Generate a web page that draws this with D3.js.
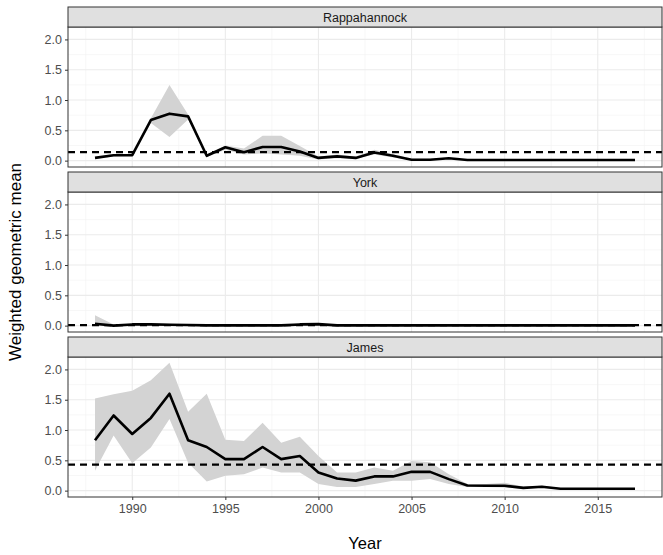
<!DOCTYPE html>
<html>
<head>
<meta charset="utf-8">
<script src="https://cdn.jsdelivr.net/npm/d3@7"></script>
<style>
  body { margin: 0; background: #fff; }
  svg { display: block; font-family: "Liberation Sans", Arial, sans-serif; }
</style>
</head>
<body>
<svg id="chart" width="663" height="555"></svg>
<script>
// ---- data ----
const years = d3.range(1988, 2018);
const rivers = ["Rappahannock", "York", "James"];

const rappMean = [0.045,0.09,0.09,0.67,0.775,0.73,0.08,0.22,0.14,0.225,0.225,0.15,0.045,0.07,0.045,0.135,0.08,0.015,0.015,0.04,0.01,0.01,0.01,0.01,0.01,0.01,0.01,0.01,0.01,0.01];
const rappLo   = [0.03,0.07,0.08,0.62,0.39,0.68,0.06,0.18,0.10,0.12,0.10,0.08,0.02,0.04,0.03,0.10,0.05,0.005,0.005,0.03,0.005,0.005,0.005,0.005,0.005,0.005,0.005,0.005,0.005,0.005];
const rappHi   = [0.06,0.11,0.11,0.70,1.25,0.76,0.10,0.25,0.20,0.41,0.41,0.24,0.07,0.10,0.07,0.18,0.11,0.03,0.03,0.05,0.015,0.015,0.015,0.015,0.015,0.015,0.015,0.015,0.015,0.015];

const yorkMean = [0.03,0.0,0.02,0.02,0.015,0.01,0.005,0.005,0.005,0.005,0.005,0.02,0.025,0.005,0.005,0.005,0.005,0.005,0.005,0.005,0.005,0.005,0.005,0.005,0.005,0.005,0.005,0.005,0.005,0.005];
const yorkLo   = [0.0,0.0,0.01,0.01,0.005,0.005,0.0,0.0,0.0,0.0,0.0,0.01,0.015,0.0,0.0,0.0,0.0,0.0,0.0,0.0,0.0,0.0,0.0,0.0,0.0,0.0,0.0,0.0,0.0,0.0];
const yorkHi   = [0.17,0.02,0.03,0.035,0.03,0.02,0.01,0.01,0.01,0.01,0.01,0.035,0.04,0.01,0.01,0.01,0.01,0.01,0.01,0.01,0.01,0.01,0.01,0.01,0.01,0.01,0.01,0.01,0.01,0.01];

const jamesMean = [0.83,1.24,0.935,1.2,1.6,0.83,0.72,0.52,0.52,0.72,0.52,0.57,0.3,0.2,0.165,0.235,0.235,0.31,0.31,0.19,0.085,0.08,0.08,0.045,0.065,0.03,0.03,0.03,0.03,0.03];
const jamesLo   = [0.33,0.91,0.45,0.71,1.18,0.46,0.15,0.245,0.27,0.38,0.30,0.30,0.11,0.06,0.06,0.11,0.165,0.165,0.19,0.11,0.06,0.06,0.05,0.03,0.05,0.02,0.02,0.02,0.02,0.02];
const jamesHi   = [1.52,1.59,1.65,1.82,2.11,1.30,1.60,0.84,0.82,1.12,0.79,0.89,0.57,0.30,0.30,0.38,0.33,0.49,0.47,0.27,0.11,0.11,0.13,0.07,0.08,0.04,0.04,0.04,0.04,0.04];

const thresholds = [0.14, 0.01, 0.43];

const xTicks = [1990, 1995, 2000, 2005, 2010, 2015];
const yTicks = [0, 0.5, 1, 1.5, 2];

// ---- layout ----
const svg = d3.select("#chart");
const left = 68, right = 662;
const stripH = 20, panelH = 140, gap = 5, top0 = 7;

const x = d3.scaleLinear().domain([1986.55, 2018.45]).range([left, right]);
const xMinor = [1987.5, 1992.5, 1997.5, 2002.5, 2007.5, 2012.5, 2017.5];
const yMinor = [0.25, 0.75, 1.25, 1.75];

const series = [
  {mean: rappMean, lo: rappLo, hi: rappHi},
  {mean: yorkMean, lo: yorkLo, hi: yorkHi},
  {mean: jamesMean, lo: jamesLo, hi: jamesHi}
];

rivers.forEach((name, i) => {
  const sTop = top0 + i * (stripH + panelH + gap);
  const pTop = sTop + stripH;
  const pBot = pTop + panelH;
  const y = d3.scaleLinear().domain([-0.105, 2.205]).range([pBot, pTop]);
  const g = svg.append("g");

  // grid minor
  g.selectAll(".xm").data(xMinor).join("line")
    .attr("x1", d => x(d)).attr("x2", d => x(d)).attr("y1", pTop).attr("y2", pBot)
    .attr("stroke", "#F2F2F2").attr("stroke-width", 0.6);
  g.selectAll(".ym").data(yMinor).join("line")
    .attr("x1", left).attr("x2", right).attr("y1", d => y(d)).attr("y2", d => y(d))
    .attr("stroke", "#F2F2F2").attr("stroke-width", 0.6);
  // grid major
  g.selectAll(".xM").data(xTicks).join("line")
    .attr("x1", d => x(d)).attr("x2", d => x(d)).attr("y1", pTop).attr("y2", pBot)
    .attr("stroke", "#EBEBEB").attr("stroke-width", 1.1);
  g.selectAll(".yM").data(yTicks).join("line")
    .attr("x1", left).attr("x2", right).attr("y1", d => y(d)).attr("y2", d => y(d))
    .attr("stroke", "#EBEBEB").attr("stroke-width", 1.1);

  const s = series[i];
  const rows = years.map((yr, k) => ({yr, m: s.mean[k], lo: s.lo[k], hi: s.hi[k]}));

  // ribbon
  g.append("path").datum(rows)
    .attr("d", d3.area().x(d => x(d.yr)).y0(d => y(d.lo)).y1(d => y(d.hi)))
    .attr("fill", "#D3D3D3");

  // threshold dashed
  g.append("line")
    .attr("x1", left).attr("x2", right)
    .attr("y1", y(thresholds[i])).attr("y2", y(thresholds[i]))
    .attr("stroke", "#000").attr("stroke-width", 2.2).attr("stroke-dasharray", "7,5");

  // mean line
  g.append("path").datum(rows)
    .attr("d", d3.line().x(d => x(d.yr)).y(d => y(d.m)))
    .attr("fill", "none").attr("stroke", "#000").attr("stroke-width", 2.6)
    .attr("stroke-linejoin", "round");

  // panel border
  g.append("rect").attr("x", left).attr("y", pTop).attr("width", right - left).attr("height", panelH)
    .attr("fill", "none").attr("stroke", "#333").attr("stroke-width", 1);

  // strip
  g.append("rect").attr("x", left).attr("y", sTop).attr("width", right - left).attr("height", stripH)
    .attr("fill", "#E0E0E0").attr("stroke", "#333").attr("stroke-width", 1);
  g.append("text").attr("x", (left + right) / 2).attr("y", sTop + stripH / 2 + 4.5)
    .attr("text-anchor", "middle").attr("font-size", 12.5).attr("fill", "#1A1A1A").text(name);

  // y axis
  const ya = d3.axisLeft(y).tickValues(yTicks).tickFormat(d3.format(".1f")).tickSize(3).tickPadding(3);
  const yg = g.append("g").attr("transform", `translate(${left},0)`).call(ya);
  yg.select(".domain").remove();
  yg.selectAll(".tick line").attr("stroke", "#333");
  yg.selectAll(".tick text").attr("font-size", 12.5).attr("fill", "#4D4D4D")
    .attr("font-family", "Liberation Sans, Arial, sans-serif");

  if (i === rivers.length - 1) {
    const xa = d3.axisBottom(x).tickValues(xTicks).tickFormat(d3.format("d")).tickSize(3).tickPadding(4);
    const xg = g.append("g").attr("transform", `translate(0,${pBot})`).call(xa);
    xg.select(".domain").remove();
    xg.selectAll(".tick line").attr("stroke", "#333");
    xg.selectAll(".tick text").attr("font-size", 12.5).attr("fill", "#4D4D4D")
      .attr("font-family", "Liberation Sans, Arial, sans-serif");
  }
});

// axis titles
svg.append("text").attr("x", (left + right) / 2).attr("y", 549)
  .attr("text-anchor", "middle").attr("font-size", 16.5).attr("fill", "#000").text("Year");
svg.append("text").attr("transform", "translate(21,262) rotate(-90)")
  .attr("text-anchor", "middle").attr("font-size", 17).attr("fill", "#000").text("Weighted geometric mean");
</script>
</body>
</html>
